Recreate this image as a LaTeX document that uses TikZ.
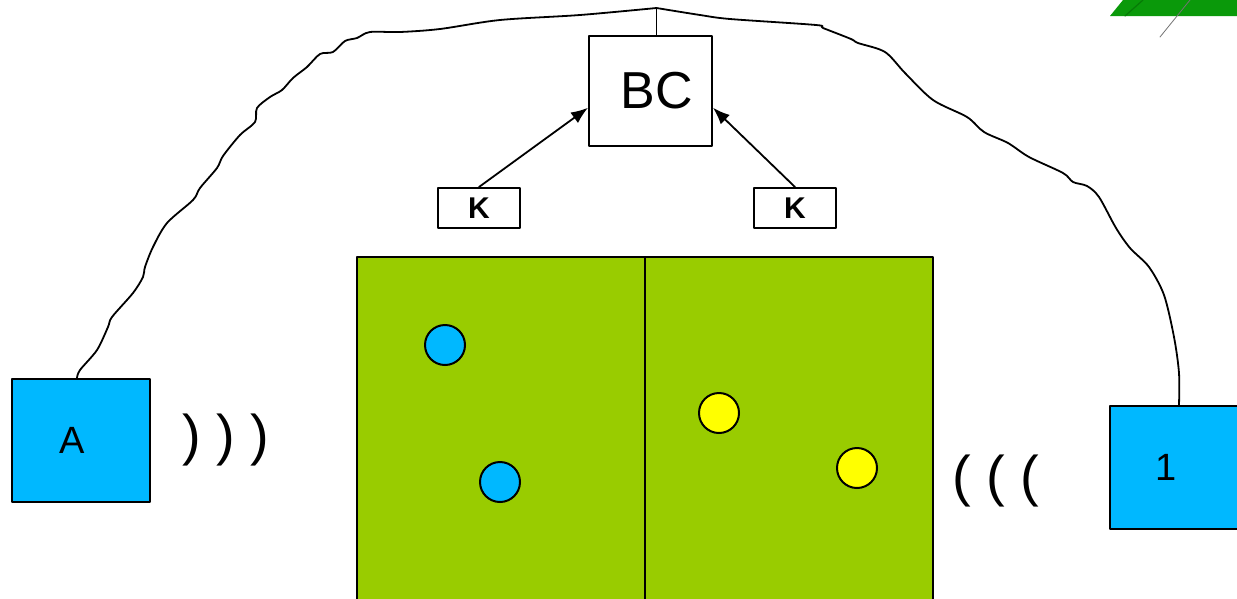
\documentclass[tikz,border=0pt]{standalone}
\usepackage{fontspec}
\setmainfont{Liberation Sans}
\usetikzlibrary{arrows.meta,positioning}
\definecolor{netBlue}{HTML}{00B8FF}
\definecolor{netField}{HTML}{99CC00}
\definecolor{netYellow}{HTML}{FFFF00}
\definecolor{netLeaf}{HTML}{0A990A}
\definecolor{netLeafDark}{HTML}{067A06}

\begin{document}
\begin{tikzpicture}[x=1pt,y=-1pt,>=Latex,line cap=round,line join=round]
\useasboundingbox[fill=white] (0,0) rectangle (1237,598);
\tikzset{box/.style={draw=black,line width=2pt,fill=white,inner sep=0pt},unit/.style={draw=black,line width=2.2pt,fill=netBlue,inner sep=0pt,minimum width=138pt,minimum height=123pt,font=\fontsize{38}{44}\selectfont},field/.style={draw=black,line width=2.2pt,fill=netField,anchor=north west,minimum width=288pt,minimum height=380pt},dot/.style={circle,draw=black,line width=2pt,minimum size=40pt,inner sep=0pt},cable/.style={draw=black,line width=1.8pt},link/.style={draw=black,line width=1.8pt,-{Latex[length=17pt,width=13pt]}},wave/.style={font=\fontsize{56}{60}\selectfont}}
\fill[netLeaf] (1110,16) -- (1123,0) -- (1237,0) -- (1237,16) -- cycle;
\draw[netLeafDark,line width=1.2pt] (1125,16) -- (1143,0);
\draw[black!55,line width=0.8pt] (1160,37) -- (1190,0);
\node[box,minimum width=123pt,minimum height=110pt,font=\fontsize{52}{60}\selectfont] (bc) at (650.5,91) {\hspace*{12pt}BC};
\node[box,minimum width=82pt,minimum height=40pt,font=\bfseries\fontsize{30}{34}\selectfont] (kl) at (479,208) {K};
\node[box,minimum width=82pt,minimum height=40pt,font=\bfseries\fontsize{30}{34}\selectfont] (kr) at (795,208) {K};
\node[field] (fl) at (356,256) {};
\node[field] (fr) at (644,256) {};
\node[dot,fill=netBlue] (b1) at (445,345) {};
\node[dot,fill=netBlue] (b2) at (500,482) {};
\node[dot,fill=netYellow] (y1) at (719,413) {};
\node[dot,fill=netYellow] (y2) at (857,468) {};
\node[unit] (a) at (81,440.5) {\hspace*{-18pt}A};
\node[unit] (u1) at (1179,467.5) {\hspace*{-26pt}1};
\node[wave] (wl) at (226,440) {) ) )};
\node[wave] (wr) at (996,481) {( ( (};
\draw[link] (kl.north) -- (bc.195);
\draw[link] (kr.north) -- (bc.-15);
\draw[cable] ([xshift=6pt]bc.north) -- ++(0,-27) coordinate (apex);
\draw[cable] plot[smooth,tension=0.5] coordinates {([xshift=-4pt]a.north) (80,370) (97,350) (108,327) (112,317) (133,293) (143,277) (145,267) (153,247) (167,223) (193,200) (200,188) (217,168) (223,156) (240,135) (255,122) (257,108) (270,97) (282,90) (293,78) (307,67) (320,54) (333,52) (345,41) (357,38) (370,32) (400,32) (440,29) (500,20) (580,15) (apex)};
\draw[cable] plot[smooth,tension=0.5] coordinates {(apex) (700,15) (730,19) (816,25) (823,28) (851,39) (858,43) (885,52) (905,73) (933,100) (967,117) (984,132) (1008,143) (1029,157) (1063,173) (1073,182) (1087,186) (1099,197) (1116,228) (1130,248) (1149,267) (1164,295) (1174,337) (1179,373) (u1.north)};
\end{tikzpicture}
\end{document}
